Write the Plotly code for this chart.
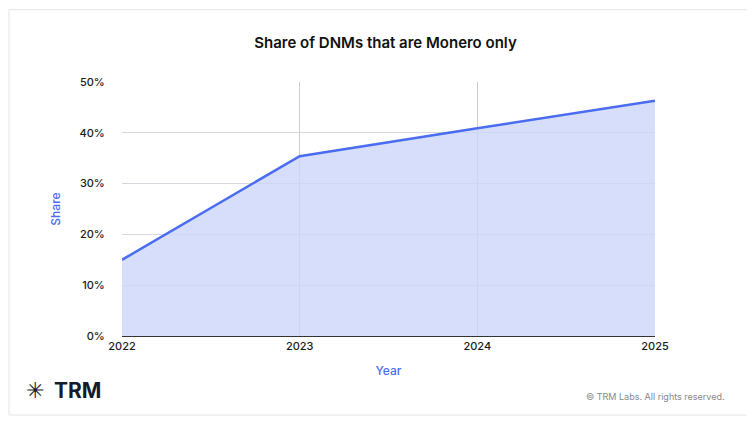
import plotly.graph_objects as go

years = [2022, 2023, 2024, 2025]
share = [15.0, 35.4, 40.9, 46.3]
y_ticks = [0, 10, 20, 30, 40, 50]
y_labels = ["0%", "10%", "20%", "30%", "40%", "50%"]

fig = go.Figure()
fig.add_trace(go.Scatter(
    x=years, y=share, mode='lines', fill='tozeroy',
    line=dict(color='#4a6cf0', width=2.5),
    fillcolor='rgba(205,214,250,0.8)',
    hoverinfo='skip', showlegend=False,
))

fig.update_layout(
    width=755, height=421,
    paper_bgcolor='white', plot_bgcolor='white',
    margin=dict(l=114, r=108, t=74, b=93),
    font=dict(family='Inter, Lato, sans-serif', color='#1a1a1a'),
    title=dict(text='Share of DNMs that are Monero only', x=0.5, xanchor='center',
               y=0.917, yanchor='middle',
               font=dict(size=15, color='#111', weight=600)),
    xaxis=dict(range=[2022, 2025], tickvals=years, showgrid=True,
               gridcolor='#c8ccd6', gridwidth=1, zeroline=False,
               showline=True, linecolor='#333', linewidth=1.2,
               tickfont=dict(size=11, weight=500), ticks='',
               title=dict(text='Year', font=dict(size=12, color='#4a6cf0', weight=500), standoff=14)),
    yaxis=dict(range=[0, 50], tickvals=y_ticks, ticktext=y_labels,
               showgrid=True, gridcolor='#d4d7de', zeroline=False,
               tickfont=dict(size=11, weight=500), ticks='outside', ticklen=14, tickcolor='white',
               title=dict(text='Share', font=dict(size=12, color='#4a6cf0', weight=500), standoff=16)),
    shapes=[dict(type='rect', xref='paper', yref='paper', x0=-0.212, x1=1.174,
                 y0=-0.311, y1=1.285, line=dict(color='#e2e4e8', width=1),
                 layer='below')],
    annotations=[
        dict(text='<b>TRM</b>', xref='paper', yref='paper', x=-0.131, y=-0.213,
             xanchor='left', yanchor='middle', showarrow=False,
             font=dict(size=21, color='#141b2b')),
        dict(text='✳', xref='paper', yref='paper', x=-0.184, y=-0.213,
             xanchor='left', yanchor='middle', showarrow=False,
             font=dict(size=22, color='#141b2b')),
        dict(text='© TRM Labs. All rights reserved.', xref='paper', yref='paper',
             x=1.135, y=-0.24, xanchor='right', yanchor='middle', showarrow=False,
             font=dict(size=9, color='#888')),
    ],
)

fig.write_html("out.html")
